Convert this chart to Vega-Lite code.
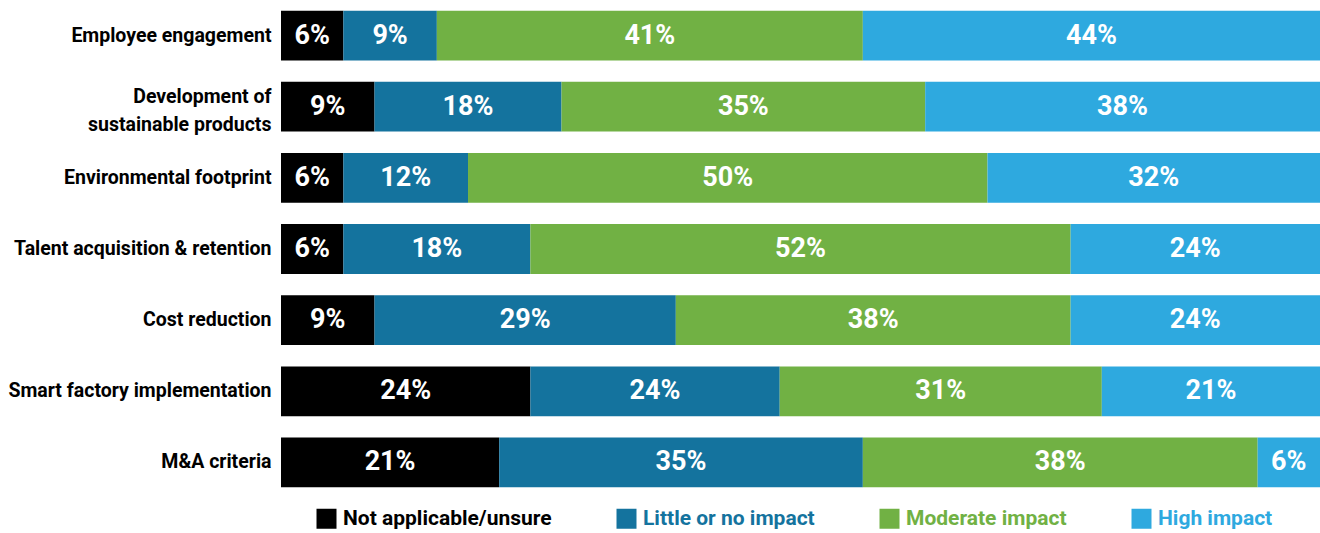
{
  "$schema": "https://vega.github.io/schema/vega-lite/v6.json",
  "width": 1039,
  "height": 498,
  "autosize": {"type": "none"},
  "padding": {"left": 281, "top": 0, "right": 0, "bottom": 35},
  "background": "white",
  "config": {"view": {"stroke": null}, "font": "Roboto"},
  "data": {"values": [
    {"cat": "Employee engagement", "series": "Not applicable/unsure", "o": 1, "v": 6},
    {"cat": "Employee engagement", "series": "Little or no impact", "o": 2, "v": 9},
    {"cat": "Employee engagement", "series": "Moderate impact", "o": 3, "v": 41},
    {"cat": "Employee engagement", "series": "High impact", "o": 4, "v": 44},
    {"cat": "Development of sustainable products", "series": "Not applicable/unsure", "o": 1, "v": 9},
    {"cat": "Development of sustainable products", "series": "Little or no impact", "o": 2, "v": 18},
    {"cat": "Development of sustainable products", "series": "Moderate impact", "o": 3, "v": 35},
    {"cat": "Development of sustainable products", "series": "High impact", "o": 4, "v": 38},
    {"cat": "Environmental footprint", "series": "Not applicable/unsure", "o": 1, "v": 6},
    {"cat": "Environmental footprint", "series": "Little or no impact", "o": 2, "v": 12},
    {"cat": "Environmental footprint", "series": "Moderate impact", "o": 3, "v": 50},
    {"cat": "Environmental footprint", "series": "High impact", "o": 4, "v": 32},
    {"cat": "Talent acquisition & retention", "series": "Not applicable/unsure", "o": 1, "v": 6},
    {"cat": "Talent acquisition & retention", "series": "Little or no impact", "o": 2, "v": 18},
    {"cat": "Talent acquisition & retention", "series": "Moderate impact", "o": 3, "v": 52},
    {"cat": "Talent acquisition & retention", "series": "High impact", "o": 4, "v": 24},
    {"cat": "Cost reduction", "series": "Not applicable/unsure", "o": 1, "v": 9},
    {"cat": "Cost reduction", "series": "Little or no impact", "o": 2, "v": 29},
    {"cat": "Cost reduction", "series": "Moderate impact", "o": 3, "v": 38},
    {"cat": "Cost reduction", "series": "High impact", "o": 4, "v": 24},
    {"cat": "Smart factory implementation", "series": "Not applicable/unsure", "o": 1, "v": 24},
    {"cat": "Smart factory implementation", "series": "Little or no impact", "o": 2, "v": 24},
    {"cat": "Smart factory implementation", "series": "Moderate impact", "o": 3, "v": 31},
    {"cat": "Smart factory implementation", "series": "High impact", "o": 4, "v": 21},
    {"cat": "M&A criteria", "series": "Not applicable/unsure", "o": 1, "v": 21},
    {"cat": "M&A criteria", "series": "Little or no impact", "o": 2, "v": 35},
    {"cat": "M&A criteria", "series": "Moderate impact", "o": 3, "v": 38},
    {"cat": "M&A criteria", "series": "High impact", "o": 4, "v": 6}
  ]},
  "encoding": {
    "y": {
      "field": "cat", "type": "nominal",
      "sort": ["Employee engagement", "Development of sustainable products", "Environmental footprint", "Talent acquisition & retention", "Cost reduction", "Smart factory implementation", "M&A criteria"],
      "scale": {"paddingInner": 0.3, "paddingOuter": 0.15},
      "axis": {
        "title": null, "domain": false, "ticks": false, "labelPadding": 10,
        "labelFontSize": 19.5, "labelFontWeight": "bold", "labelColor": "#000000",
        "labelLimit": 400, "labelLineHeight": 28,
        "labelExpr": "datum.value == 'Development of sustainable products' ? ['Development of ', 'sustainable products'] : datum.label",
        "labelOffset": {"condition": {"test": "datum.value == 'Development of sustainable products'", "value": -10}, "value": 0}
      }
    },
    "x": {"field": "v", "type": "quantitative", "stack": "zero", "scale": {"domain": [0, 100], "nice": false}, "axis": null},
    "order": {"field": "o", "type": "quantitative"}
  },
  "layer": [
    {
      "mark": {"type": "bar"},
      "encoding": {
        "color": {
          "field": "series", "type": "nominal",
          "scale": {"domain": ["Not applicable/unsure", "Little or no impact", "Moderate impact", "High impact"], "range": ["#000000", "#14739e", "#71b144", "#2ea9df"]},
          "legend": {
            "title": null, "orient": "none", "legendX": 35, "legendY": 508, "direction": "horizontal",
            "symbolType": "square", "symbolSize": 400, "symbolStrokeWidth": 0, "symbolOpacity": 1,
            "labelFontSize": 21, "labelFontWeight": "bold", "labelOffset": 6, "columnPadding": 64,
            "labelLimit": 400,
            "encode": {"labels": {"update": {"fill": {"signal": "scale('color', datum.value)"}}}}
          }
        }
      }
    },
    {
      "mark": {"type": "text", "color": "white", "fontSize": 27, "fontWeight": "bold", "align": "center", "baseline": "middle", "text": {"expr": "datum.v + '%'"}},
      "encoding": {
        "x": {"field": "v", "type": "quantitative", "stack": "zero", "bandPosition": 0.5}
      }
    }
  ]
}
